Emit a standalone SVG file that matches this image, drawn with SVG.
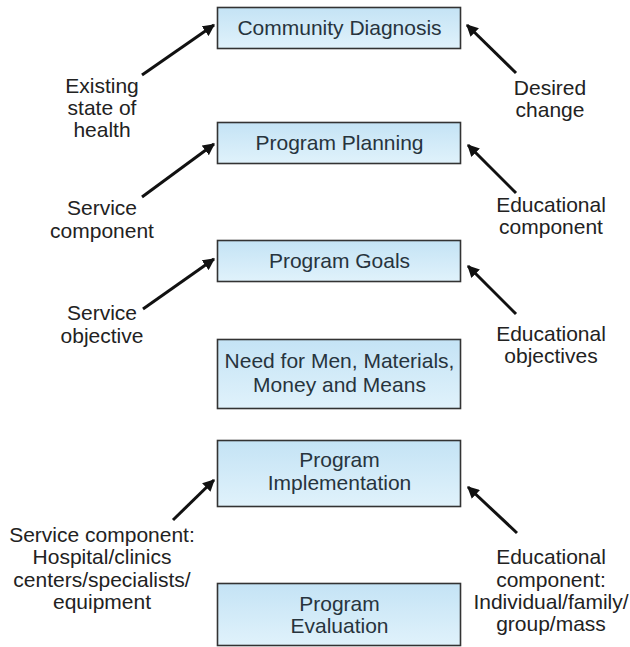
<svg xmlns="http://www.w3.org/2000/svg" width="630" height="647" viewBox="0 0 630 647">
<defs>
<linearGradient id="bx" x1="0" y1="0" x2="0" y2="1">
<stop offset="0" stop-color="#c4e3f5"/>
<stop offset="1" stop-color="#e0f2fb"/>
</linearGradient>
<marker id="ah" viewBox="0 0 10 10" refX="9" refY="5" markerWidth="4" markerHeight="4" orient="auto" markerUnits="strokeWidth">
<path d="M0,0 L10,5 L0,10 z" fill="#111"/>
</marker>
</defs>
<style>
.box{fill:url(#bx);stroke:#333;stroke-width:1.6}
.bt{font-family:"Liberation Sans",Arial,sans-serif;font-size:21px;fill:#27343d;text-anchor:middle}
.lb{font-family:"Liberation Sans",Arial,sans-serif;font-size:21px;fill:#222;text-anchor:middle}
.cn{stroke:#111;stroke-width:3;fill:none;marker-end:url(#ah)}
</style>
<rect width="630" height="647" fill="#fff"/>
<g id="connectors">
<line class="cn" x1="142" y1="75" x2="214" y2="25"/>
<line class="cn" x1="516" y1="73" x2="467" y2="25"/>
<line class="cn" x1="142" y1="197" x2="214" y2="144"/>
<line class="cn" x1="516" y1="193" x2="468" y2="145"/>
<line class="cn" x1="143" y1="309" x2="214" y2="259"/>
<line class="cn" x1="516" y1="314" x2="468" y2="266"/>
<line class="cn" x1="173" y1="520" x2="214" y2="480"/>
<line class="cn" x1="517" y1="533" x2="468" y2="487"/>
</g>
<g id="community-diagnosis">
<rect class="box" x="217.5" y="7.5" width="243" height="41"/>
<text class="bt" x="339.5" y="35">Community Diagnosis</text>
</g>
<g id="program-planning">
<rect class="box" x="217.5" y="122.5" width="243" height="41"/>
<text class="bt" x="339.5" y="150">Program Planning</text>
</g>
<g id="program-goals">
<rect class="box" x="217.5" y="240.5" width="243" height="41"/>
<text class="bt" x="339.5" y="268">Program Goals</text>
</g>
<g id="need">
<rect class="box" x="217.5" y="339.5" width="243" height="69"/>
<text class="bt" x="339.5" y="368">Need for Men, Materials,</text>
<text class="bt" x="339.5" y="392">Money and Means</text>
</g>
<g id="program-implementation">
<rect class="box" x="217.5" y="440.5" width="243" height="66"/>
<text class="bt" x="339.5" y="467">Program</text>
<text class="bt" x="339.5" y="490">Implementation</text>
</g>
<g id="program-evaluation">
<rect class="box" x="217.5" y="583.5" width="243" height="62"/>
<text class="bt" x="339.5" y="611">Program</text>
<text class="bt" x="339.5" y="633">Evaluation</text>
</g>
<g id="label-existing">
<text class="lb" x="102" y="93">Existing</text>
<text class="lb" x="102" y="115">state of</text>
<text class="lb" x="102" y="137">health</text>
</g>
<g id="label-desired">
<text class="lb" x="550" y="95">Desired</text>
<text class="lb" x="550" y="117">change</text>
</g>
<g id="label-service-component">
<text class="lb" x="102" y="215">Service</text>
<text class="lb" x="102" y="238">component</text>
</g>
<g id="label-educational-component">
<text class="lb" x="551" y="212">Educational</text>
<text class="lb" x="551" y="234">component</text>
</g>
<g id="label-service-objective">
<text class="lb" x="102" y="320">Service</text>
<text class="lb" x="102" y="343">objective</text>
</g>
<g id="label-educational-objectives">
<text class="lb" x="551" y="341">Educational</text>
<text class="lb" x="551" y="363">objectives</text>
</g>
<g id="label-service-component-detail">
<text class="lb" x="102" y="542">Service component:</text>
<text class="lb" x="102" y="564">Hospital/clinics</text>
<text class="lb" x="102" y="587">centers/specialists/</text>
<text class="lb" x="102" y="609">equipment</text>
</g>
<g id="label-educational-component-detail">
<text class="lb" x="551" y="564">Educational</text>
<text class="lb" x="551" y="587">component:</text>
<text class="lb" x="551" y="609">Individual/family/</text>
<text class="lb" x="551" y="631">group/mass</text>
</g>
</svg>
